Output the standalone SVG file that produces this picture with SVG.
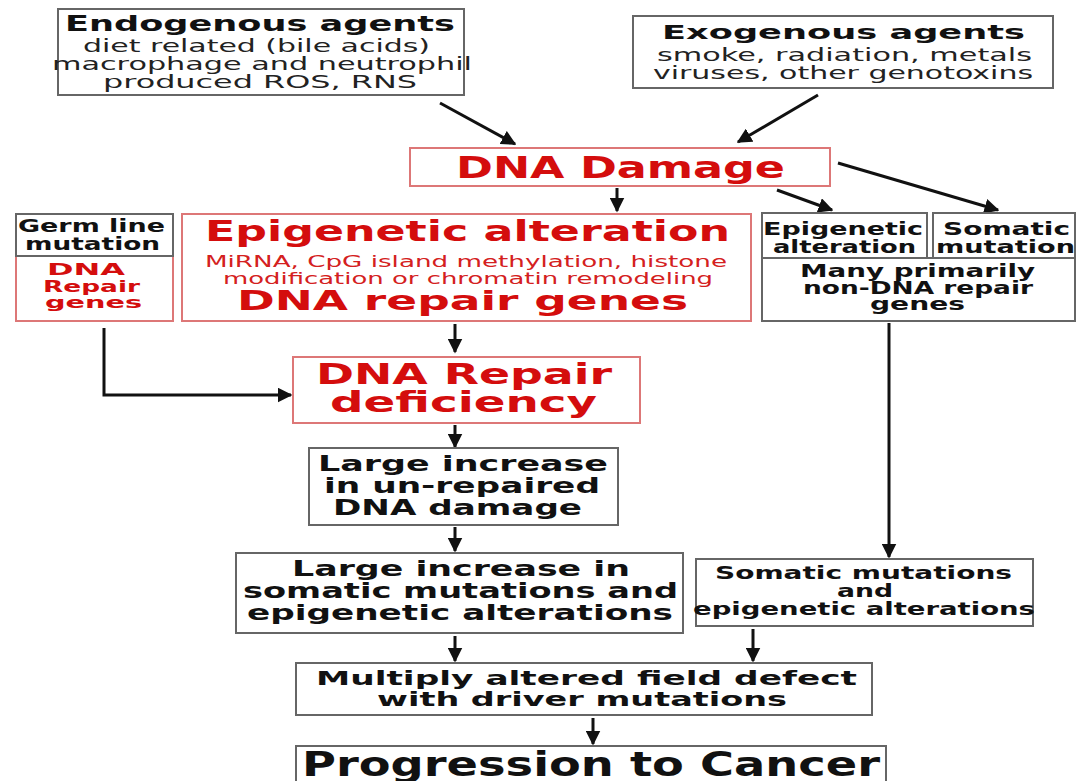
<svg xmlns="http://www.w3.org/2000/svg" width="1078" height="781" viewBox="0 0 1078 781">
<style>
.bx{fill:#fff;stroke:#666;stroke-width:2}
.rb{fill:#fff;stroke:#d77;stroke-width:2}
text{font-family:"DejaVu Sans","Liberation Sans",sans-serif}
.b{font-weight:bold;fill:#111}
.n{fill:#222}
.r{font-weight:bold;fill:#d40d0d}
.rn{fill:#d42020}
.c{stroke:#111;stroke-width:3;fill:none}
</style>
<defs>
<marker id="ah" viewBox="0 0 10 10" refX="9" refY="5" markerWidth="5" markerHeight="5" orient="auto" markerUnits="strokeWidth">
<path d="M0,0 L10,5 L0,10 z" fill="#111"/>
</marker>
</defs>
<rect width="1078" height="781" fill="#fff"/>
<g id="connectors">
<line class="c" x1="440" y1="103" x2="515" y2="144" marker-end="url(#ah)"/>
<line class="c" x1="818" y1="95" x2="738" y2="142" marker-end="url(#ah)"/>
<line class="c" x1="617" y1="188" x2="617" y2="211" marker-end="url(#ah)"/>
<line class="c" x1="777" y1="190" x2="832" y2="210" marker-end="url(#ah)"/>
<line class="c" x1="838" y1="163" x2="998" y2="210" marker-end="url(#ah)"/>
<line class="c" x1="455" y1="324" x2="455" y2="352" marker-end="url(#ah)"/>
<polyline class="c" points="104,328 104,395 291,395" marker-end="url(#ah)"/>
<line class="c" x1="455" y1="425" x2="455" y2="447" marker-end="url(#ah)"/>
<line class="c" x1="455" y1="527" x2="455" y2="551" marker-end="url(#ah)"/>
<line class="c" x1="889" y1="323" x2="889" y2="557" marker-end="url(#ah)"/>
<line class="c" x1="455" y1="636" x2="455" y2="661" marker-end="url(#ah)"/>
<line class="c" x1="753" y1="629" x2="753" y2="661" marker-end="url(#ah)"/>
<line class="c" x1="593" y1="718" x2="593" y2="744" marker-end="url(#ah)"/>
</g>
<g id="endogenous">
<rect class="bx" x="58" y="9" width="406" height="86"/>
<text class="b" x="65" y="31" font-size="22" textLength="390" lengthAdjust="spacingAndGlyphs">Endogenous agents</text>
<text class="n" x="83" y="52" font-size="17" textLength="347" lengthAdjust="spacingAndGlyphs">diet related (bile acids)</text>
<text class="n" x="52" y="70" font-size="17" textLength="420" lengthAdjust="spacingAndGlyphs">macrophage and neutrophil</text>
<text class="n" x="103" y="88" font-size="17" textLength="314" lengthAdjust="spacingAndGlyphs">produced ROS, RNS</text>
</g>
<g id="exogenous">
<rect class="bx" x="633" y="16" width="420" height="72"/>
<text class="b" x="662" y="39" font-size="20" textLength="363" lengthAdjust="spacingAndGlyphs">Exogenous agents</text>
<text class="n" x="657" y="61" font-size="17" textLength="375" lengthAdjust="spacingAndGlyphs">smoke, radiation, metals</text>
<text class="n" x="653" y="79" font-size="17" textLength="380" lengthAdjust="spacingAndGlyphs">viruses, other genotoxins</text>
</g>
<g id="dna-damage">
<rect class="rb" x="410" y="148" width="420" height="38"/>
<text class="r" x="456" y="178" font-size="31" textLength="329" lengthAdjust="spacingAndGlyphs">DNA Damage</text>
</g>
<g id="germline">
<rect class="rb" x="16" y="256" width="157" height="65"/>
<rect class="bx" x="16" y="214" width="157" height="42"/>
<text class="b" x="18" y="232" font-size="17" textLength="147" lengthAdjust="spacingAndGlyphs">Germ line</text>
<text class="b" x="25" y="250" font-size="17" textLength="135" lengthAdjust="spacingAndGlyphs">mutation</text>
<text class="r" x="47" y="275" font-size="16" textLength="78" lengthAdjust="spacingAndGlyphs">DNA</text>
<text class="r" x="43" y="292" font-size="16" textLength="97" lengthAdjust="spacingAndGlyphs">Repair</text>
<text class="r" x="45" y="308" font-size="16" textLength="97" lengthAdjust="spacingAndGlyphs">genes</text>
</g>
<g id="epigenetic-main">
<rect class="rb" x="182" y="214" width="569" height="107"/>
<text class="r" x="205" y="241" font-size="28" textLength="525" lengthAdjust="spacingAndGlyphs">Epigenetic alteration</text>
<text class="rn" x="205" y="267" font-size="15" textLength="522" lengthAdjust="spacingAndGlyphs">MiRNA, CpG island methylation, histone</text>
<text class="rn" x="223" y="284" font-size="15" textLength="490" lengthAdjust="spacingAndGlyphs">modification or chromatin remodeling</text>
<text class="r" x="237" y="310" font-size="27" textLength="451" lengthAdjust="spacingAndGlyphs">DNA repair genes</text>
</g>
<g id="epigenetic-small">
<rect class="bx" x="762" y="213" width="165" height="45"/>
<text class="b" x="763" y="235" font-size="17" textLength="160" lengthAdjust="spacingAndGlyphs">Epigenetic</text>
<text class="b" x="773" y="253" font-size="17" textLength="143" lengthAdjust="spacingAndGlyphs">alteration</text>
</g>
<g id="somatic-small">
<rect class="bx" x="933" y="213" width="142" height="45"/>
<text class="b" x="943" y="235" font-size="17" textLength="127" lengthAdjust="spacingAndGlyphs">Somatic</text>
<text class="b" x="936" y="253" font-size="17" textLength="139" lengthAdjust="spacingAndGlyphs">mutation</text>
</g>
<g id="non-dna-repair">
<rect class="bx" x="762" y="258" width="313" height="63"/>
<text class="b" x="800" y="277" font-size="17" textLength="235" lengthAdjust="spacingAndGlyphs">Many primarily</text>
<text class="b" x="803" y="294" font-size="17" textLength="230" lengthAdjust="spacingAndGlyphs">non-DNA repair</text>
<text class="b" x="870" y="310" font-size="17" textLength="95" lengthAdjust="spacingAndGlyphs">genes</text>
</g>
<g id="repair-deficiency">
<rect class="rb" x="293" y="357" width="347" height="66"/>
<text class="r" x="316" y="384" font-size="28" textLength="296" lengthAdjust="spacingAndGlyphs">DNA Repair</text>
<text class="r" x="330" y="412" font-size="28" textLength="267" lengthAdjust="spacingAndGlyphs">deficiency</text>
</g>
<g id="unrepaired">
<rect class="bx" x="309" y="448" width="309" height="77"/>
<text class="b" x="318" y="471" font-size="21" textLength="290" lengthAdjust="spacingAndGlyphs">Large increase</text>
<text class="b" x="324" y="493" font-size="21" textLength="276" lengthAdjust="spacingAndGlyphs">in un-repaired</text>
<text class="b" x="333" y="515" font-size="21" textLength="249" lengthAdjust="spacingAndGlyphs">DNA damage</text>
</g>
<g id="large-somatic">
<rect class="bx" x="236" y="553" width="447" height="80"/>
<text class="b" x="292" y="576" font-size="21" textLength="338" lengthAdjust="spacingAndGlyphs">Large increase in</text>
<text class="b" x="243" y="598" font-size="21" textLength="435" lengthAdjust="spacingAndGlyphs">somatic mutations and</text>
<text class="b" x="247" y="620" font-size="21" textLength="426" lengthAdjust="spacingAndGlyphs">epigenetic alterations</text>
</g>
<g id="somatic-epigenetic">
<rect class="bx" x="696" y="559" width="337" height="67"/>
<text class="b" x="715" y="579" font-size="17" textLength="297" lengthAdjust="spacingAndGlyphs">Somatic mutations</text>
<text class="b" x="837" y="597" font-size="17" textLength="56" lengthAdjust="spacingAndGlyphs">and</text>
<text class="b" x="693" y="615" font-size="17" textLength="342" lengthAdjust="spacingAndGlyphs">epigenetic alterations</text>
</g>
<g id="field-defect">
<rect class="bx" x="296" y="663" width="576" height="52"/>
<text class="b" x="316" y="685" font-size="20" textLength="541" lengthAdjust="spacingAndGlyphs">Multiply altered field defect</text>
<text class="b" x="377" y="706" font-size="20" textLength="410" lengthAdjust="spacingAndGlyphs">with driver mutations</text>
</g>
<g id="cancer">
<rect class="bx" x="296" y="746" width="590" height="45"/>
<text class="b" x="302" y="776" font-size="34" textLength="578" lengthAdjust="spacingAndGlyphs">Progression to Cancer</text>
</g>
</svg>
